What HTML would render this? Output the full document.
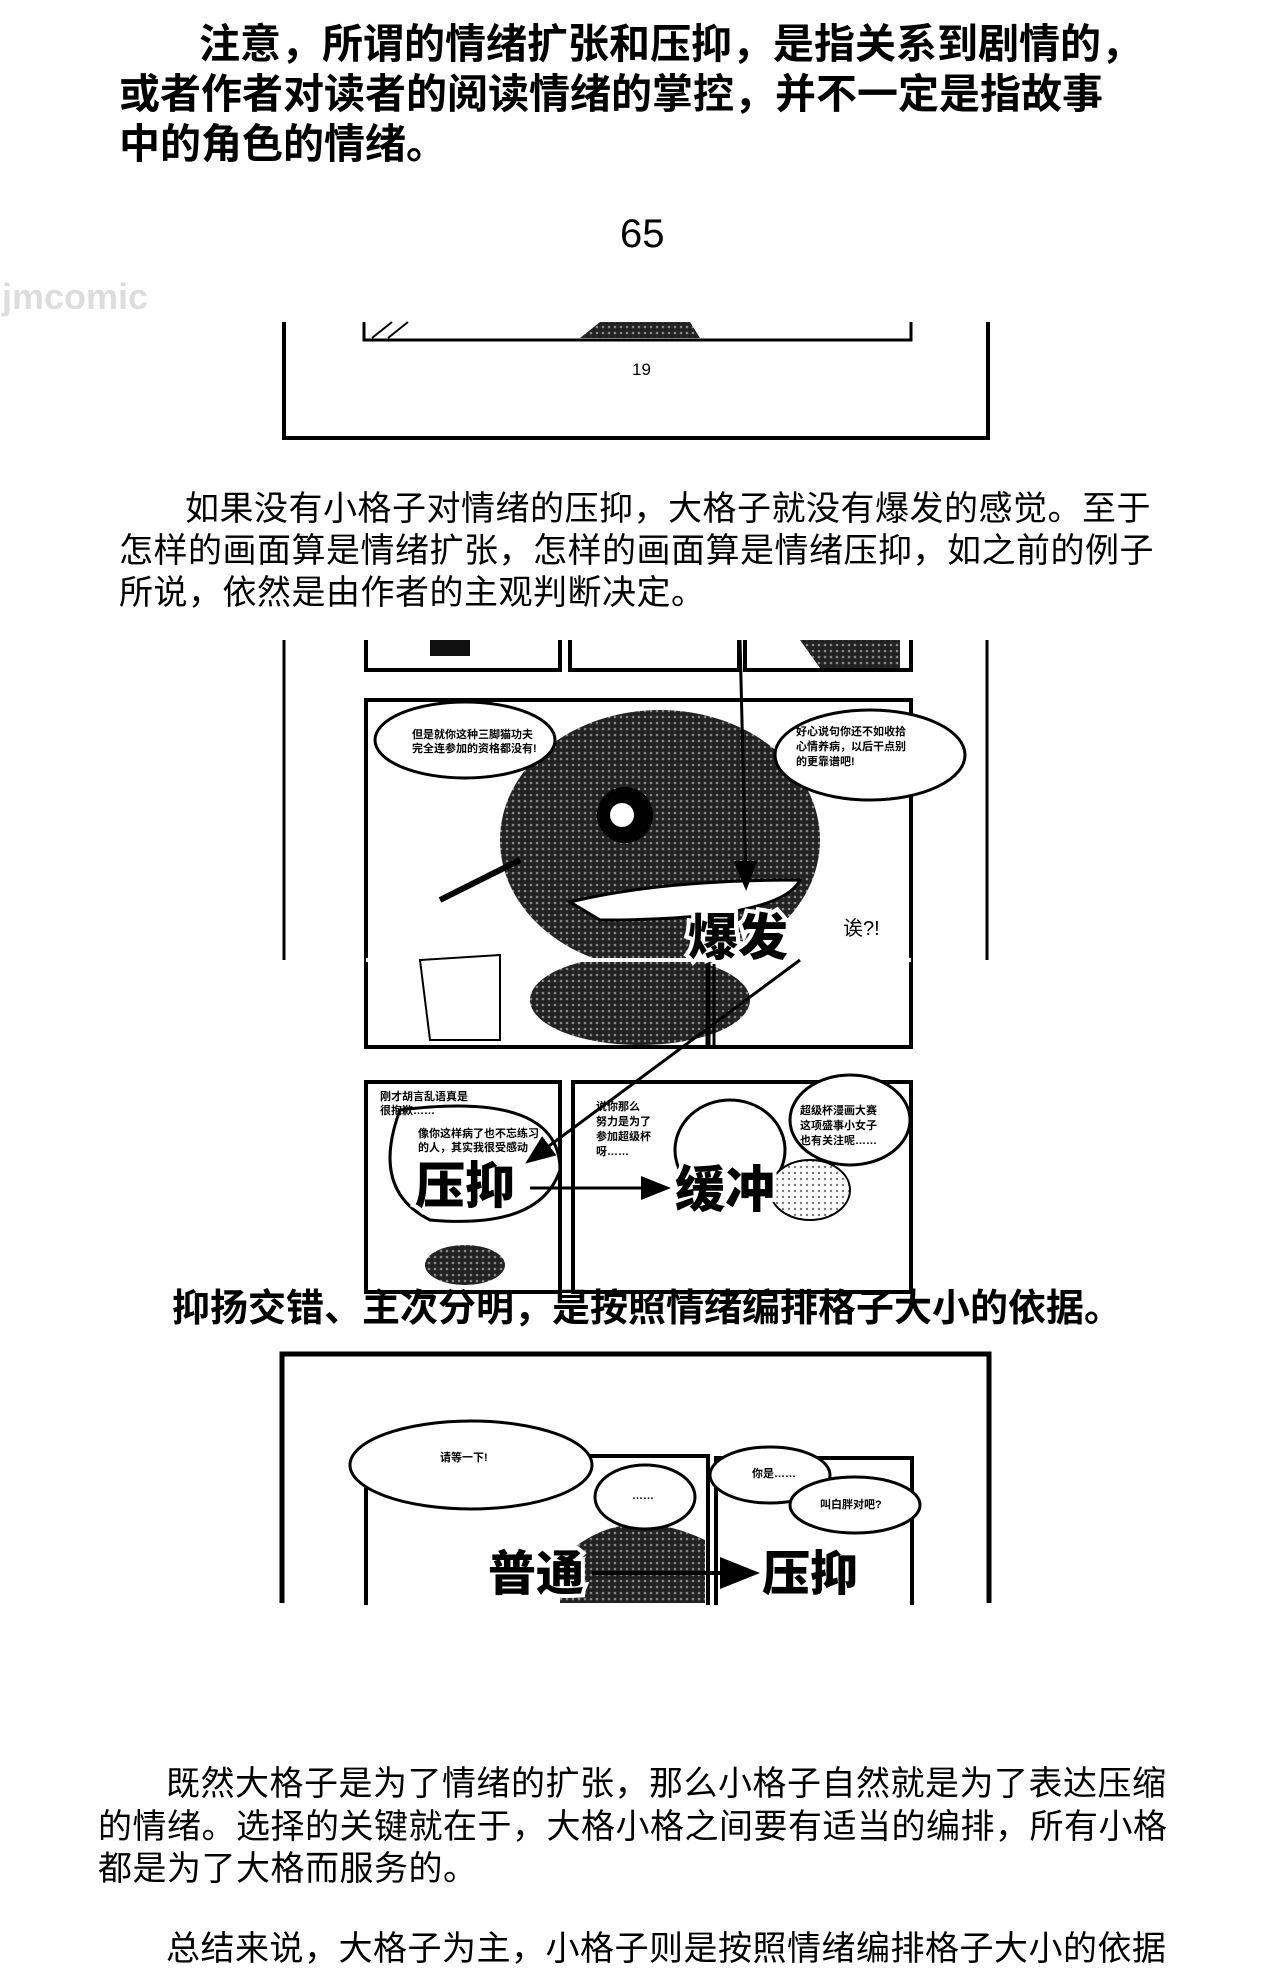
<!DOCTYPE html>
<html><head><meta charset="utf-8"><style>
html,body{margin:0;padding:0;background:#fff;}
body{width:1280px;height:1931px;position:relative;overflow:hidden;font-family:"Liberation Sans","Noto Sans CJK SC",sans-serif;color:#000;}
.t{position:absolute;white-space:nowrap;}
.b{font-weight:bold;font-size:41px;}
.r{font-size:34px;letter-spacing:0.5px;}
svg{position:absolute;left:0;top:0;}
</style></head><body>
<svg width="1280" height="1931" viewBox="0 0 1280 1931">
<defs>
<pattern id="dots" width="6" height="6" patternUnits="userSpaceOnUse"><rect width="6" height="6" fill="#222"/><circle cx="3" cy="3" r="1.3" fill="#888"/></pattern>
<pattern id="ldots" width="6" height="6" patternUnits="userSpaceOnUse"><rect width="6" height="6" fill="#fff"/><circle cx="3" cy="3" r="1.2" fill="#777"/></pattern>
<marker id="ah" markerWidth="10" markerHeight="10" refX="8" refY="5" orient="auto"><path d="M0,1 L10,5 L0,9 z" fill="#000"/></marker>
</defs>
<!-- frame 1 -->
<path d="M284 322 V438 H988 V322" fill="none" stroke="#000" stroke-width="4"/>
<path d="M364 322 V340 H911 V322" fill="none" stroke="#000" stroke-width="3"/>
<path d="M372 338 L392 322 M388 338 L408 322" stroke="#000" stroke-width="2"/>
<path d="M580 338 L600 322 H690 L700 338 z" fill="url(#dots)"/>
<!-- comic 2 -->
<line x1="284" y1="640" x2="284" y2="960" stroke="#000" stroke-width="3"/>
<line x1="987" y1="640" x2="987" y2="960" stroke="#000" stroke-width="3"/>
<g fill="#fff" stroke="#000" stroke-width="4">
<rect x="366" y="630" width="194" height="40"/>
<rect x="570" y="630" width="169" height="40"/>
<rect x="745" y="630" width="166" height="40"/>
<rect x="366" y="700" width="545" height="347"/>
<rect x="366" y="1082" width="194" height="210"/>
<rect x="573" y="1082" width="338" height="210"/>
</g>
<rect x="280" y="620" width="720" height="20" fill="#fff"/>
<path d="M430 640 h40 v16 h-40 z" fill="#111"/>
<path d="M800 640 h100 v28 h-80 z" fill="url(#dots)"/>
<ellipse cx="660" cy="840" rx="160" ry="130" fill="url(#dots)"/>
<ellipse cx="640" cy="1000" rx="110" ry="45" fill="url(#dots)"/>
<ellipse cx="625" cy="815" rx="28" ry="28" fill="#000"/>
<ellipse cx="622" cy="815" rx="12" ry="12" fill="#fff"/>
<path d="M570 902 Q660 880 800 880 Q780 920 600 920 z" fill="#fff" stroke="#000" stroke-width="3"/>
<line x1="366" y1="960" x2="911" y2="960" stroke="#fff" stroke-width="4"/>
<line x1="708" y1="960" x2="708" y2="1047" stroke="#000" stroke-width="5"/>
<line x1="714" y1="960" x2="714" y2="1047" stroke="#000" stroke-width="3"/>
<g fill="#fff" stroke="#000" stroke-width="3">
<ellipse cx="465" cy="740" rx="90" ry="38"/>
<ellipse cx="870" cy="755" rx="95" ry="45"/>
<path d="M400 1110 Q560 1090 560 1170 Q540 1230 430 1220 Q370 1190 400 1110z"/>
<ellipse cx="730" cy="1150" rx="55" ry="50"/>
<ellipse cx="850" cy="1120" rx="60" ry="45"/>
</g>
<ellipse cx="465" cy="1265" rx="40" ry="20" fill="url(#dots)"/>
<ellipse cx="810" cy="1190" rx="40" ry="30" fill="url(#ldots)" stroke="#000" stroke-width="2"/>
<path d="M440 900 L520 860" stroke="#000" stroke-width="6"/>
<path d="M500 955 L420 960 L430 1040 L500 1040 z" fill="#fff" stroke="#000" stroke-width="2"/>
<g font-family="Liberation Sans,Noto Sans CJK SC,sans-serif" font-size="11" font-weight="bold">
<text x="412" y="738">但是就你这种三脚猫功夫</text><text x="412" y="752">完全连参加的资格都没有!</text>
<text x="796" y="735">好心说句你还不如收拾</text><text x="796" y="750">心情养病，以后干点别</text><text x="796" y="765">的更靠谱吧!</text>
<text x="380" y="1100">刚才胡言乱语真是</text><text x="380" y="1114">很抱歉……</text>
<text x="418" y="1137">像你这样病了也不忘练习</text><text x="418" y="1151">的人，其实我很受感动</text>
<text x="596" y="1110">说你那么</text><text x="596" y="1125">努力是为了</text><text x="596" y="1140">参加超级杯</text><text x="596" y="1155">呀……</text>
<text x="800" y="1114">超级杯漫画大赛</text><text x="800" y="1129">这项盛事小女子</text><text x="800" y="1144">也有关注呢……</text>
</g>
<text x="843" y="935" font-size="20" font-family="Liberation Sans,Noto Sans CJK SC,sans-serif">诶?!</text>
<line x1="740" y1="640" x2="746" y2="885" stroke="#000" stroke-width="3" marker-end="url(#ah)"/>
<line x1="800" y1="960" x2="530" y2="1160" stroke="#000" stroke-width="3" marker-end="url(#ah)"/>
<line x1="530" y1="1188" x2="665" y2="1188" stroke="#000" stroke-width="3" marker-end="url(#ah)"/>
<g font-family="Liberation Sans,Noto Sans CJK SC,sans-serif" font-weight="900" font-size="50" stroke="#fff" stroke-width="8" paint-order="stroke" fill="#000">
<text x="688" y="955">爆发</text>
<text x="415" y="1203">压抑</text>
<text x="675" y="1207">缓冲</text>
</g>
<!-- frame 3 -->
<path d="M282 1603 V1354 H989 V1603" fill="none" stroke="#000" stroke-width="5"/>
<g fill="#fff" stroke="#000" stroke-width="4">
<rect x="366" y="1456" width="342" height="180"/>
<rect x="716" y="1458" width="196" height="180"/>
</g>
<path d="M560 1560 Q620 1500 705 1540 V1603 H560 z" fill="url(#dots)"/>
<g fill="#fff" stroke="#000" stroke-width="3">
<ellipse cx="471" cy="1465" rx="121" ry="44"/>
<ellipse cx="645" cy="1497" rx="50" ry="32"/>
<ellipse cx="770" cy="1475" rx="60" ry="28"/>
<ellipse cx="855" cy="1505" rx="65" ry="28"/>
</g>
<g font-family="Liberation Sans,Noto Sans CJK SC,sans-serif" font-size="11" font-weight="bold">
<text x="440" y="1461">请等一下!</text><text x="632" y="1499">……</text><text x="752" y="1477">你是……</text><text x="820" y="1508">叫白胖对吧?</text>
</g>
<line x1="592" y1="1573" x2="752" y2="1573" stroke="#000" stroke-width="4" marker-end="url(#ah)"/>
<g font-family="Liberation Sans,Noto Sans CJK SC,sans-serif" font-weight="900" font-size="48" stroke="#fff" stroke-width="8" paint-order="stroke" fill="#000">
<text x="488" y="1590">普通</text>
<text x="762" y="1590">压抑</text>
</g>
<rect x="270" y="1605" width="740" height="40" fill="#fff"/>
</svg>
<div class="t b" style="left:199px;top:10px;">注意，所谓的情绪扩张和压抑，是指关系到剧情的，</div>
<div class="t b" style="left:119px;top:60px;">或者作者对读者的阅读情绪的掌控，并不一定是指故事</div>
<div class="t b" style="left:119px;top:110px;">中的角色的情绪。</div>
<div class="t" style="left:620px;top:212px;font-size:40px;">65</div>
<div class="t" style="left:2px;top:276px;font-size:36px;font-weight:bold;color:#ddd;">jmcomic</div>
<div class="t" style="left:632px;top:360px;font-size:17px;">19</div>
<div class="t r" style="left:185px;top:481px;">如果没有小格子对情绪的压抑，大格子就没有爆发的感觉。至于</div>
<div class="t r" style="left:119px;top:523px;">怎样的画面算是情绪扩张，怎样的画面算是情绪压抑，如之前的例子</div>
<div class="t r" style="left:119px;top:565px;">所说，依然是由作者的主观判断决定。</div>
<div class="t" style="left:172px;top:1277px;font-size:38px;font-weight:bold;">抑扬交错、主次分明，是按照情绪编排格子大小的依据。</div>
<div class="t r" style="left:166px;top:1756px;">既然大格子是为了情绪的扩张，那么小格子自然就是为了表达压缩</div>
<div class="t r" style="left:98px;top:1799px;">的情绪。选择的关键就在于，大格小格之间要有适当的编排，所有小格</div>
<div class="t r" style="left:98px;top:1841px;">都是为了大格而服务的。</div>
<div class="t r" style="left:166px;top:1921px;">总结来说，大格子为主，小格子则是按照情绪编排格子大小的依据</div>
</body></html>
